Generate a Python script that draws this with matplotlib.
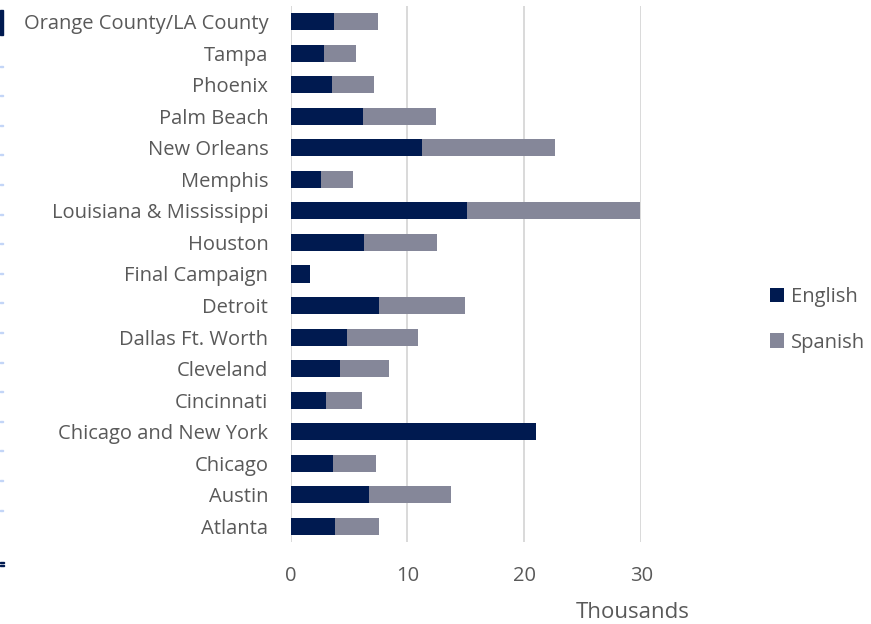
import matplotlib
matplotlib.use("Agg")
import matplotlib.pyplot as plt
from matplotlib.patches import Rectangle

# values in thousands, bottom to top
cities = [
    "Atlanta", "Austin", "Chicago", "Chicago and New York", "Cincinnati",
    "Cleveland", "Dallas Ft. Worth", "Detroit", "Final Campaign", "Houston",
    "Louisiana & Mississippi", "Memphis", "New Orleans", "Palm Beach",
    "Phoenix", "Tampa", "Orange County/LA County",
]
english = [3.8, 6.68, 3.63, 21.0, 3.03, 4.23, 4.8, 7.53, 1.67, 6.28,
           15.09, 2.58, 11.24, 6.2, 3.55, 2.86, 3.72]
spanish = [3.79, 7.01, 3.7, 0.0, 3.08, 4.22, 6.1, 7.36, 0.0, 6.24,
           14.78, 2.76, 11.36, 6.26, 3.55, 2.74, 3.73]
xticks = [0, 10, 20, 30]

ENG_COLOR = "#001A50"
SPA_COLOR = "#858799"
TEXT_COLOR = "#595959"
FONT = "Open Sans"

W, H = 871, 624
fig = plt.figure(figsize=(W / 100, H / 100), dpi=100)
ax = fig.add_axes([290.5 / W, 1 - 542 / H, (641.3 - 290.5) / W, (542 - 6) / H])

ypos = range(len(cities))
ax.barh(ypos, english, height=0.54, color=ENG_COLOR, label="English", zorder=3)
ax.barh(ypos, spanish, left=english, height=0.54, color=SPA_COLOR,
        label="Spanish", zorder=3)

ax.set_xlim(0, 30)
ax.set_ylim(-0.5, len(cities) - 0.5)
ax.set_xticks(xticks)
ax.set_xticklabels([str(t) for t in xticks], fontsize=14.5, color=TEXT_COLOR,
                   family=FONT)
ax.set_yticks(list(ypos))
ax.set_yticklabels(cities, fontsize=14.5, color=TEXT_COLOR, family=FONT)
ax.tick_params(axis="both", length=0)
ax.tick_params(axis="x", pad=17)
ax.tick_params(axis="y", pad=16)
ax.grid(axis="x", color="#D9D9D9", linewidth=1.4, zorder=0)
for s in ax.spines.values():
    s.set_visible(False)

fig.text(633 / W, 1 - 613 / H, "Thousands", fontsize=16, color=TEXT_COLOR,
         family=FONT, ha="center", va="center")

leg = ax.legend(loc="center left", bbox_to_anchor=(752 / W, 1 - 320 / H),
                bbox_transform=fig.transFigure, frameon=False,
                prop={"family": FONT, "size": 14.5}, handlelength=0.7,
                handleheight=0.7, handletextpad=0.35, labelspacing=1.25)
for t in leg.get_texts():
    t.set_color(TEXT_COLOR)

# cropped edge of a neighbouring object at the left border
fig.patches.append(Rectangle((0, 1 - 35 / H), 3 / W, 25 / H,
                             transform=fig.transFigure, color=ENG_COLOR))
for k in range(16):
    yy = 65.5 + k * 29.6
    fig.patches.append(Rectangle((0, 1 - (yy + 1) / H), 3 / W, 1 / H,
                                 transform=fig.transFigure, color="#C3D5F7"))
for yy in (562, 565):
    fig.patches.append(Rectangle((0, 1 - (yy + 1) / H), 4 / W, 1.2 / H,
                                 transform=fig.transFigure, color=ENG_COLOR))

fig.savefig("out.png", dpi=100)
